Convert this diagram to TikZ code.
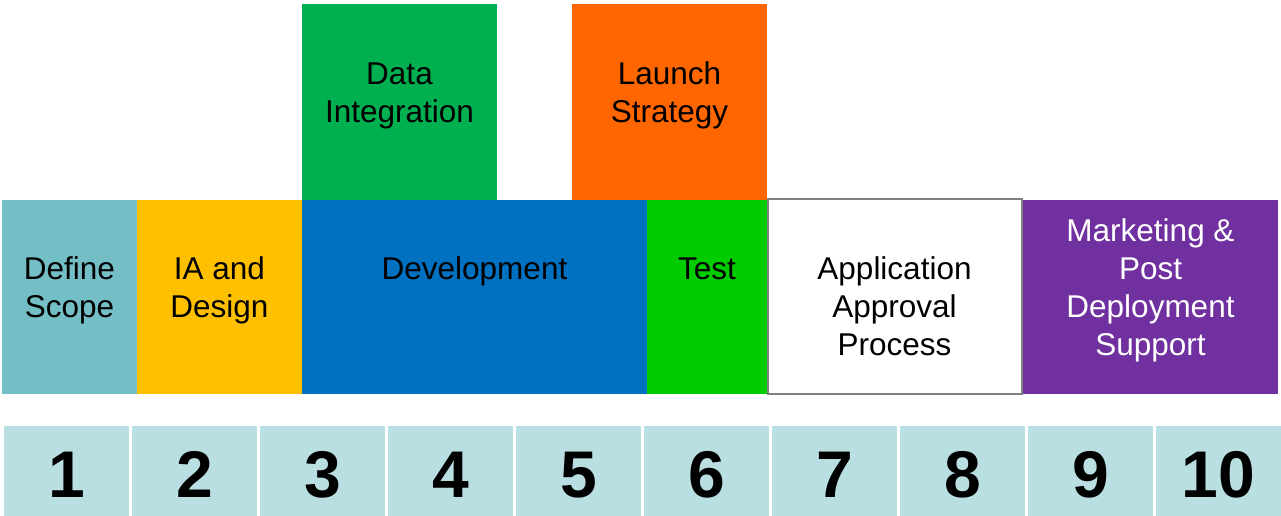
\documentclass[tikz,border=0pt]{standalone}
\usepackage{fontspec}
\setmainfont{Liberation Sans}
\definecolor{cteal}{HTML}{73BFC5}
\definecolor{cyellow}{HTML}{FFC000}
\definecolor{cblue}{HTML}{0070C0}
\definecolor{ctest}{HTML}{00CC00}
\definecolor{cdata}{HTML}{00B050}
\definecolor{corange}{HTML}{FF6600}
\definecolor{cpurple}{HTML}{7030A0}
\definecolor{cnum}{HTML}{B9DFE2}
\definecolor{cgrayb}{HTML}{808080}
\begin{document}
\begin{tikzpicture}[x=1pt,y=-1pt,
  lbl/.style={inner sep=0pt,outer sep=0pt,align=center,anchor=base,font=\fontsize{31.5}{38}\selectfont},
  numlbl/.style={inner sep=0pt,anchor=base,font=\fontsize{66}{70}\selectfont\bfseries}]
\useasboundingbox (0,0) rectangle (1281,516);
% phase boxes
\fill[cteal] (2,200) rectangle (137,394);
\fill[cyellow] (137,200) rectangle (302,394);
\fill[cblue] (302,200) rectangle (647,394);
\fill[ctest] (647,200) rectangle (767,394);
\fill[cdata] (302,4) rectangle (497,200);
\fill[corange] (572,4) rectangle (767,200);
\fill[cpurple] (1023,200) rectangle (1278,394);
\draw[cgrayb,line width=2.2pt,fill=white] (768,199) rectangle (1022,394);
% labels (base anchor = baseline of last line)
\node[lbl] (tdef) at (69.5,317) {Define\\Scope};
\node[lbl] (tia) at (219.5,317) {IA and\\Design};
\node[lbl] (tdev) at (474.5,279) {Development};
\node[lbl] (ttest) at (707,279) {Test};
\node[lbl] (tapp) at (894.5,355) {Application\\Approval\\Process};
\node[lbl,text=white] (tmkt) at (1150.5,355) {Marketing \&\\Post\\Deployment\\Support};
\node[lbl] (tdata) at (399.5,123) {Data\\Integration};
\node[lbl] (tlaunch) at (669.5,123) {Launch\\Strategy};
% number boxes
\foreach \i in {1,...,10}{
  \pgfmathsetmacro{\xl}{4+(\i-1)*128}
  \fill[cnum] (\xl,426) rectangle ++(125,90);
  \node[numlbl] (n\i) at (\xl+62.5,497) {\i};
}
\end{tikzpicture}
\end{document}
